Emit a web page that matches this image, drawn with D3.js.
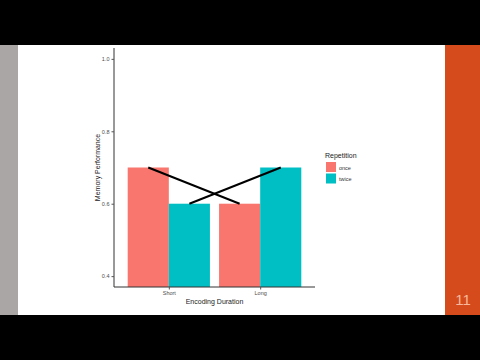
<!DOCTYPE html>
<html>
<head>
<meta charset="utf-8">
<script src="https://cdn.jsdelivr.net/npm/d3@7"></script>
<style>
  body { margin: 0; background: #000; }
  svg { display: block; font-family: "Liberation Sans", Arial, sans-serif; }
</style>
</head>
<body>
<svg id="slide" width="480" height="360"></svg>
<script>
// --- data ---
let durations = ["Short", "Long"]
let repetitions = ["once", "twice"]
let onceValues = [0.7, 0.6]
let twiceValues = [0.6, 0.7]
let yTicks = [0.4, 0.6, 0.8, 1.0]
let repColors = ["#F8766D", "#00BFC4"]

let svg = d3.select("#slide")

// slide background
svg.append("rect").attr("x", 0).attr("y", 45).attr("width", 480).attr("height", 270).attr("fill", "#fff")
svg.append("rect").attr("x", 0).attr("y", 45).attr("width", 18).attr("height", 270).attr("fill", "#aaa6a6")
svg.append("rect").attr("x", 445).attr("y", 45).attr("width", 35).attr("height", 270).attr("fill", "#d64b1c")
svg.append("text").attr("x", 463).attr("y", 305).attr("text-anchor", "middle")
    .attr("font-size", 15).attr("fill", "#f7b89c").attr("font-weight", 300).text("11")

// --- plot area ---
let panelLeft = 114, panelRight = 315, panelTop = 48, panelBottom = 287

// ggplot discrete expansion: 0.6 units each side
let unit = (panelRight - panelLeft) / 2.2
let x = d3.scalePoint().domain(durations).range([panelLeft + 0.6 * unit, panelRight - 0.6 * unit])
let dodge = d3.scaleBand().domain(repetitions).range([-0.45 * unit, 0.45 * unit])

let y = d3.scaleLinear().domain([0.37, 1.03]).range([panelBottom, panelTop])

let rows = []
durations.forEach(function (d, i) {
    rows.push({ dur: d, rep: "once", value: onceValues[i] })
    rows.push({ dur: d, rep: "twice", value: twiceValues[i] })
})

let color = d3.scaleOrdinal().domain(repetitions).range(repColors)

// bars (bottom clipped at panel edge like coord_cartesian)
svg.append("g").selectAll("rect").data(rows).enter()
    .append("rect")
    .attr("x", function (d) { return x(d.dur) + dodge(d.rep) })
    .attr("width", dodge.bandwidth())
    .attr("y", function (d) { return y(d.value) })
    .attr("height", function (d) { return panelBottom - y(d.value) })
    .attr("fill", function (d) { return color(d.rep) })

// lines joining same repetition across durations
let line = d3.line()
    .x(function (d) { return x(d.dur) + dodge(d.rep) + dodge.bandwidth() / 2 })
    .y(function (d) { return y(d.value) })

repetitions.forEach(function (r) {
    svg.append("path")
        .datum(rows.filter(function (d) { return d.rep == r }))
        .attr("d", line)
        .attr("fill", "none")
        .attr("stroke", "#000")
        .attr("stroke-width", 2)
})

// axes
let yAxis = svg.append("g").attr("transform", "translate(" + panelLeft + ",0)")
    .call(d3.axisLeft(y).tickValues(yTicks).tickFormat(d3.format(".1f")).tickSize(2.5).tickPadding(2))
yAxis.select(".domain").attr("d", "M0," + panelTop + "V" + panelBottom).attr("stroke", "#333")
yAxis.selectAll(".tick line").attr("stroke", "#555")
yAxis.selectAll(".tick text").attr("font-size", 5.5).attr("fill", "#4d4d4d")

let xAxis = svg.append("g").attr("transform", "translate(0," + panelBottom + ")")
    .call(d3.axisBottom(x).tickSize(2.5).tickPadding(2))
xAxis.select(".domain").attr("d", "M" + panelLeft + ",0H" + panelRight).attr("stroke", "#333")
xAxis.selectAll(".tick line").attr("stroke", "#555")
xAxis.selectAll(".tick text").attr("font-size", 5.5).attr("fill", "#4d4d4d")

// titles
svg.append("text").attr("x", (panelLeft + panelRight) / 2).attr("y", 304).attr("text-anchor", "middle")
    .attr("font-size", 7).attr("fill", "#222").text("Encoding Duration")
svg.append("text").attr("transform", "translate(100," + ((panelTop + panelBottom) / 2) + ") rotate(-90)")
    .attr("text-anchor", "middle").attr("font-size", 7).attr("fill", "#222").text("Memory Performance")

// legend
let legend = svg.append("g").attr("transform", "translate(325,152)")
legend.append("text").attr("x", 0).attr("y", 6).attr("font-size", 7).attr("fill", "#222").text("Repetition")
repetitions.forEach(function (r, i) {
    legend.append("rect").attr("x", 1).attr("y", 10 + i * 11.5).attr("width", 10).attr("height", 10)
        .attr("fill", color(r))
    legend.append("text").attr("x", 14).attr("y", 17.5 + i * 11.5).attr("font-size", 5.5)
        .attr("fill", "#333").text(r)
})
</script>
</body>
</html>
